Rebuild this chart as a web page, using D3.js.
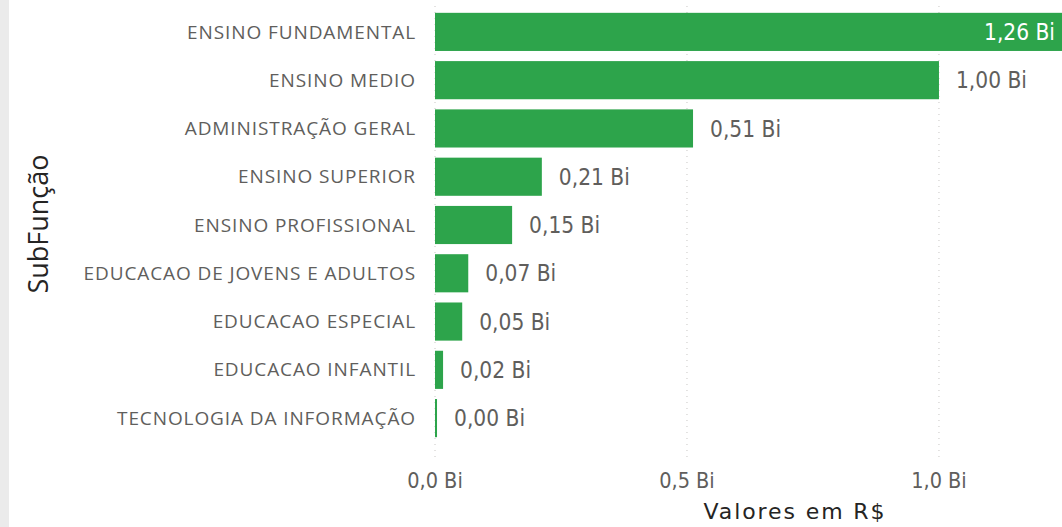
<!DOCTYPE html>
<html>
<head>
<meta charset="utf-8">
<script src="https://cdn.jsdelivr.net/npm/d3@7"></script>
<style>
  body { margin: 0; background: #fff; }
  svg { display: block; }
</style>
</head>
<body>
<svg width="1062" height="527"></svg>
<script>
const categories = [
  "ENSINO FUNDAMENTAL",
  "ENSINO MEDIO",
  "ADMINISTRAÇÃO GERAL",
  "ENSINO SUPERIOR",
  "ENSINO PROFISSIONAL",
  "EDUCACAO DE JOVENS E ADULTOS",
  "EDUCACAO ESPECIAL",
  "EDUCACAO INFANTIL",
  "TECNOLOGIA DA INFORMAÇÃO"
];
const values = [1.26, 1.0, 0.512, 0.212, 0.153, 0.066, 0.054, 0.016, 0.004];
const valueLabels = ["1,26 Bi", "1,00 Bi", "0,51 Bi", "0,21 Bi", "0,15 Bi", "0,07 Bi", "0,05 Bi", "0,02 Bi", "0,00 Bi"];
const tickValues = [0, 0.5, 1.0];
const tickLabels = ["0,0 Bi", "0,5 Bi", "1,0 Bi"];

const svg = d3.select("svg");

// faint panel edge on the left
svg.append("rect")
  .attr("x", 0).attr("y", 0)
  .attr("width", 9).attr("height", 527)
  .attr("fill", "#ebebeb");

const x = d3.scaleLinear().domain([0, 1.26]).range([435, 1070]);
const y = d3.scaleBand().domain(categories).range([8, 442]).paddingInner(0.21).paddingOuter(0.1);

// dotted gridlines
svg.append("g")
  .selectAll("line")
  .data(tickValues)
  .enter()
  .append("line")
  .attr("x1", (d) => x(d)).attr("x2", (d) => x(d))
  .attr("y1", 6).attr("y2", 458)
  .attr("stroke", "#c8c6c4")
  .attr("stroke-width", 1)
  .attr("stroke-dasharray", "1,5");

// x tick labels
svg.append("g")
  .selectAll("text")
  .data(tickValues)
  .enter()
  .append("text")
  .attr("x", (d) => x(d))
  .attr("y", 488)
  .attr("text-anchor", "middle")
  .attr("font-family", "'DejaVu Sans Condensed', 'DejaVu Sans', sans-serif")
  .attr("font-size", 21.5)
  .attr("fill", "#605e5c")
  .text((d, i) => tickLabels[i]);

// bars
const rows = svg.append("g")
  .selectAll(".row")
  .data(categories)
  .enter()
  .append("g")
  .attr("class", "row");

rows.append("rect")
  .attr("x", x(0))
  .attr("y", (d) => y(d))
  .attr("width", (d, i) => Math.max(1.5, x(values[i]) - x(0)))
  .attr("height", y.bandwidth())
  .attr("fill", "#2da44b");

// category labels
rows.append("text")
  .attr("x", 416)
  .attr("y", (d) => y(d) + y.bandwidth() / 2)
  .attr("dy", "0.35em")
  .attr("text-anchor", "end")
  .attr("font-family", "'Open Sans', sans-serif")
  .attr("font-size", 19)
  .attr("letter-spacing", 0.9)
  .attr("fill", "#605e5c")
  .text((d) => d);

// value labels: inside the bar if it runs out of room
rows.append("text")
  .attr("x", (d, i) => (x(values[i]) > 980 ? 1055 : Math.max(x(values[i]), x(0) + 2) + 17))
  .attr("y", (d) => y(d) + y.bandwidth() / 2)
  .attr("dy", "0.36em")
  .attr("text-anchor", (d, i) => (x(values[i]) > 980 ? "end" : "start"))
  .attr("font-family", "'DejaVu Sans Condensed', 'DejaVu Sans', sans-serif")
  .attr("font-size", 22.5)
  .attr("fill", (d, i) => (x(values[i]) > 980 ? "#ffffff" : "#605e5c"))
  .text((d, i) => valueLabels[i]);

// axis titles
svg.append("text")
  .attr("x", 795)
  .attr("y", 519)
  .attr("text-anchor", "middle")
  .attr("font-family", "'DejaVu Sans', sans-serif")
  .attr("font-size", 22)
  .attr("letter-spacing", 1.9)
  .attr("fill", "#252423")
  .text("Valores em R$");

svg.append("text")
  .attr("transform", "translate(48,224) rotate(-90)")
  .attr("text-anchor", "middle")
  .attr("font-family", "'Open Sans', sans-serif")
  .attr("font-size", 27)
  .attr("fill", "#252423")
  .text("SubFunção");
</script>
</body>
</html>
